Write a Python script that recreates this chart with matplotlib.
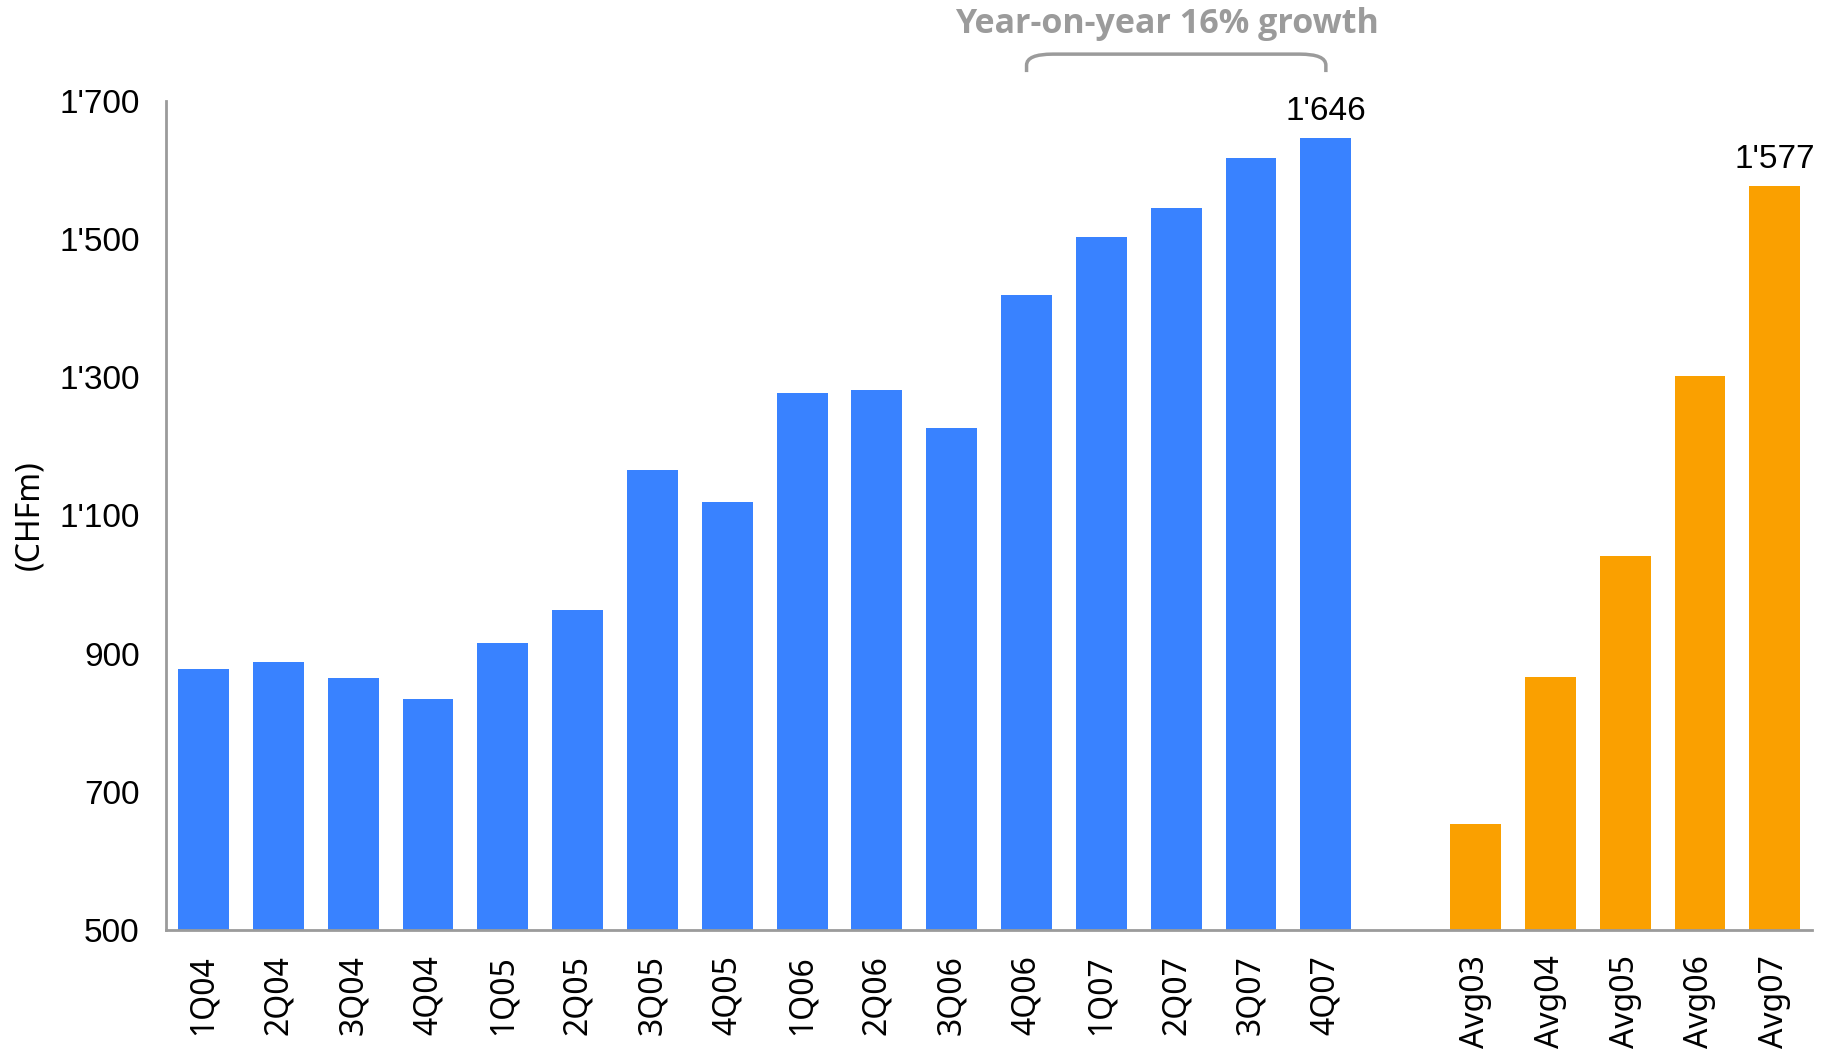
import matplotlib
matplotlib.use("Agg")
import matplotlib.pyplot as plt
from matplotlib.path import Path
from matplotlib.patches import PathPatch
from matplotlib.ticker import FuncFormatter

# Quarterly values (CHFm)
quarters = ["1Q04", "2Q04", "3Q04", "4Q04", "1Q05", "2Q05", "3Q05", "4Q05",
            "1Q06", "2Q06", "3Q06", "4Q06", "1Q07", "2Q07", "3Q07", "4Q07"]
quarter_values = [878, 888, 864, 834, 915, 963, 1166, 1119,
                  1277, 1282, 1226, 1419, 1503, 1545, 1617, 1646]

# Annual averages (CHFm)
years = ["Avg03", "Avg04", "Avg05", "Avg06", "Avg07"]
year_values = [653, 866, 1041, 1302, 1577]

y_ticks = [500, 700, 900, 1100, 1300, 1500, 1700]
growth_text = "Year-on-year 16% growth"

BLUE = "#3982FF"
ORANGE = "#FAA000"
GREY = "#9B9B9B"
NARROW = ["Liberation Sans", "DejaVu Sans"]
SANS = ["Noto Sans", "DejaVu Sans"]
BOLD = ["Open Sans", "DejaVu Sans"]


def swiss(v, _pos=None):
    v = int(round(v))
    if v >= 1000:
        return f"{v // 1000}'{v % 1000:03d}"
    return str(v)


fig = plt.figure(figsize=(18.25, 10.53), dpi=100)
ax = fig.add_axes([0.091, 0.117, 0.902, 0.787])

q_pos = list(range(len(quarters)))
y_pos = [len(quarters) + 1 + i for i in range(len(years))]

ax.bar(q_pos, quarter_values, width=0.68, color=BLUE, zorder=2)
ax.bar(y_pos, year_values, width=0.68, color=ORANGE, zorder=2)

ax.set_xlim(-0.5, y_pos[-1] + 0.5)
ax.set_ylim(500, 1700)
ax.set_yticks(y_ticks)
ax.yaxis.set_major_formatter(FuncFormatter(swiss))
ax.set_xticks(q_pos + y_pos)
ax.set_xticklabels(quarters + years, rotation=90, family=SANS, fontsize=23)
for lab in ax.get_yticklabels():
    lab.set_family(NARROW)
    lab.set_fontsize(24)
ax.tick_params(axis="both", length=0)
ax.tick_params(axis="x", pad=18)
ax.tick_params(axis="y", pad=19)

for side in ("top", "right"):
    ax.spines[side].set_visible(False)
for side in ("left", "bottom"):
    ax.spines[side].set_color(GREY)
    ax.spines[side].set_linewidth(2)

ax.set_ylabel("(CHFm)", family=SANS, fontsize=23)
ax.yaxis.set_label_coords(-0.073, 0.5)

# Value labels on the last bar of each group
ax.text(q_pos[-1], quarter_values[-1] + 16, swiss(quarter_values[-1]),
        ha="center", va="bottom", family=NARROW, fontsize=24)
ax.text(y_pos[-1], year_values[-1] + 16, swiss(year_values[-1]),
        ha="center", va="bottom", family=NARROW, fontsize=24)

# Bracket over the last five quarters
x0, x1 = q_pos[11], q_pos[15]
yb, yt = 1742, 1768
r_x, r_y = 0.35, 16
verts = [(x0, yb), (x0, yt - r_y), (x0, yt), (x0 + r_x, yt),
         (x1 - r_x, yt), (x1, yt), (x1, yt - r_y), (x1, yb)]
codes = [Path.MOVETO, Path.LINETO, Path.CURVE3, Path.CURVE3,
         Path.LINETO, Path.CURVE3, Path.CURVE3, Path.LINETO]
ax.add_patch(PathPatch(Path(verts, codes), fill=False, edgecolor=GREY,
                       lw=2.5, clip_on=False, capstyle="butt"))
ax.text((x0 + x1) / 2 - 0.13, 1812, growth_text, ha="center", va="center",
        color=GREY, fontsize=24.5, fontweight="bold", family=BOLD)

fig.savefig("out.png", dpi=100, facecolor="white")
